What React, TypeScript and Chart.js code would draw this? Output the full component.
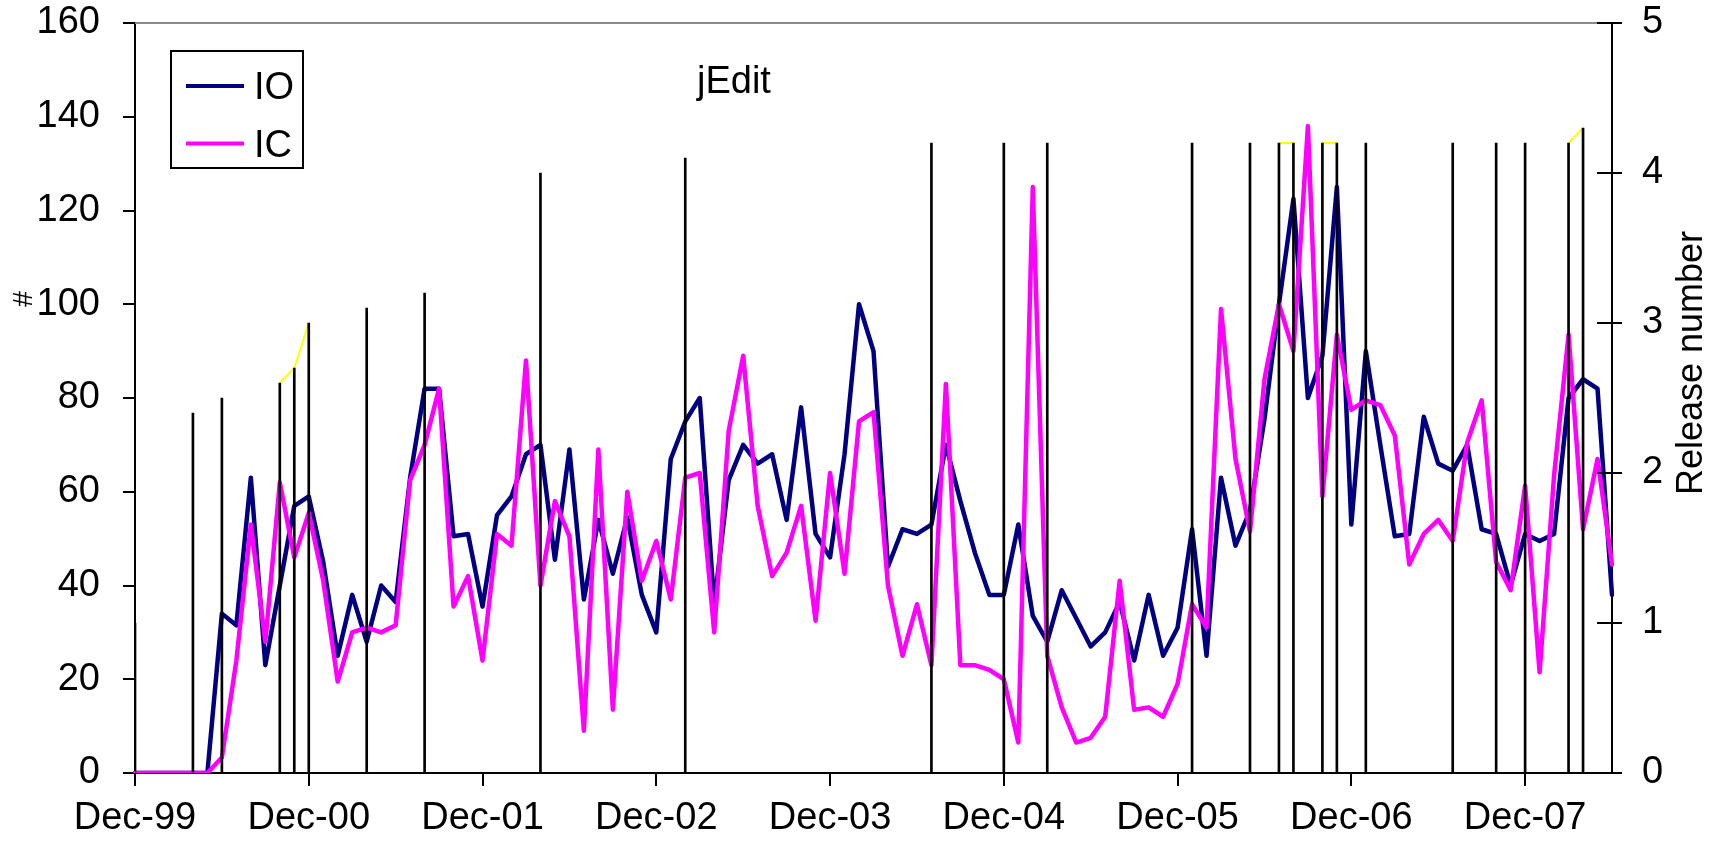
import React, { useEffect, useRef } from 'react';
import { Chart, registerables } from 'chart.js';

Chart.register(...registerables);

// ---------- data ----------
const MONTH_NAMES = ['Jan', 'Feb', 'Mar', 'Apr', 'May', 'Jun', 'Jul', 'Aug', 'Sep', 'Oct', 'Nov', 'Dec'];
const FIRST_MONTH = 11; // Dec
const FIRST_YEAR = 1999;
const MONTH_COUNT = 103; // Dec-99 .. Jun-08

const CATEGORIES: string[] = Array.from({ length: MONTH_COUNT }, (_, i) => {
  const m = (FIRST_MONTH + i) % 12;
  const y = FIRST_YEAR + Math.floor((FIRST_MONTH + i) / 12);
  return `${MONTH_NAMES[m]}-${String(y % 100).padStart(2, '0')}`;
});

const IO_VALUES = [
  0, 0, 0, 0, 0, 0, 34, 31.5, 63, 23, 40, 57, 59, 45, 25, 38, 28, 40, 36.5, 63,
  82, 82, 50.5, 51, 35.5, 55, 59, 68, 70, 45.5, 69, 37, 54, 42.5, 54.5, 38, 30, 67, 75, 80,
  36, 62.5, 70, 66, 68, 54, 78, 51, 46, 68, 100, 90, 44, 52, 51, 53, 70, 58, 47, 38,
  38, 53, 33.5, 28, 39, 33, 27, 30, 36.5, 24, 38, 25, 31, 52, 25, 63, 48.5, 56, 75.5, 100,
  122.5, 80, 89, 125, 53, 90, 70, 50.5, 51, 76, 66, 64.5, 70, 52, 51, 40, 51, 49.5, 51, 80,
  84, 82, 38,
];

const IC_VALUES = [
  0, 0, 0, 0, 0, 0, 3.3, 24, 53, 28, 62, 46, 55.5, 41, 19.5, 30, 31, 30, 31.5, 62.5,
  70, 82, 35.5, 42, 24, 51, 48.5, 88, 40, 58, 50.5, 9, 69, 13.5, 60, 41, 49.5, 37, 63, 64,
  30, 73, 89, 57, 42, 47, 57, 32.5, 64, 42.5, 75, 77, 40, 25, 36, 23, 83, 23, 23, 22,
  20, 6.5, 125, 25, 14, 6.5, 7.5, 12, 41, 13.5, 14, 12, 19, 36, 31, 99, 67, 51.5, 84, 100,
  90, 138, 59, 93.5, 77.5, 79.5, 78.5, 72, 44.5, 51, 54, 49.5, 70.5, 79.5, 45, 39, 61.3, 21.5, 63.5, 93.5,
  52, 67, 44.5,
];

const RELEASE_MONTHS = [
  'Dec-99', 'Apr-00', 'Jun-00', 'Oct-00', 'Nov-00', 'Dec-00', 'Apr-01', 'Aug-01', 'Apr-02', 'Feb-03',
  'Jul-04', 'Dec-04', 'Mar-05', 'Jan-06', 'May-06', 'Jul-06', 'Aug-06', 'Oct-06', 'Nov-06', 'Jan-07',
  'Jul-07', 'Oct-07', 'Dec-07', 'Mar-08', 'Apr-08',
];
const RELEASE_NUMBERS = [
  1.0, 2.4, 2.5, 2.6, 2.7, 3.0, 3.1, 3.2, 4.0, 4.1,
  4.2, 4.2, 4.2, 4.2, 4.2, 4.2, 4.2, 4.2, 4.2, 4.2,
  4.2, 4.2, 4.2, 4.2, 4.3,
];

const LEFT_TICKS = { min: 0, max: 160, step: 20 };
const RIGHT_TICKS = { min: 0, max: 5, step: 1 };
const TICK_EVERY = 12;

const TITLE = 'jEdit';
const LEFT_TITLE = '#';
const RIGHT_TITLE = 'Release number';
const SERIES_NAMES = ['IO', 'IC'];
const COLORS = { io: '#000080', ic: '#FF00FF', release: '#000000', releaseLine: '#FFFF00' };

const FONT = '"Liberation Sans", Arial, sans-serif';
const TICK_FONT_SIZE = 38;

const releaseSeries: (number | null)[] = CATEGORIES.map((c) => {
  const k = RELEASE_MONTHS.indexOf(c);
  return k >= 0 ? RELEASE_NUMBERS[k] : null;
});

const overlayPlugin = {
  id: 'overlay',
  afterDraw(chart: any) {
    const { ctx, chartArea: ca } = chart;
    ctx.save();
    // top border
    ctx.strokeStyle = '#8a8a8a';
    ctx.lineWidth = 2;
    ctx.beginPath();
    ctx.moveTo(ca.left, ca.top);
    ctx.lineTo(ca.right, ca.top);
    ctx.stroke();

    // inner half of right-axis ticks (cross ticks)
    const y2 = chart.scales.y2;
    ctx.strokeStyle = '#000';
    ctx.lineWidth = 2;
    ctx.beginPath();
    y2.ticks.forEach((t: any) => {
      const y = y2.getPixelForValue(t.value);
      ctx.moveTo(ca.right - 15, y);
      ctx.lineTo(ca.right, y);
    });
    ctx.stroke();

    // title inside plot
    ctx.fillStyle = '#000';
    ctx.font = `38px ${FONT}`;
    ctx.textAlign = 'left';
    ctx.textBaseline = 'alphabetic';
    ctx.fillText(TITLE, 697, 93);

    // legend
    ctx.fillStyle = '#fff';
    ctx.fillRect(171, 51, 132, 117);
    ctx.strokeStyle = '#000';
    ctx.lineWidth = 2;
    ctx.strokeRect(171, 51, 132, 117);
    const legendRows = [
      { name: SERIES_NAMES[0], color: COLORS.io, y: 86 },
      { name: SERIES_NAMES[1], color: COLORS.ic, y: 143.5 },
    ];
    legendRows.forEach((r) => {
      ctx.strokeStyle = r.color;
      ctx.lineWidth = 4;
      ctx.beginPath();
      ctx.moveTo(186, r.y);
      ctx.lineTo(244, r.y);
      ctx.stroke();
      ctx.fillStyle = '#000';
      ctx.font = `38px ${FONT}`;
      ctx.textBaseline = 'alphabetic';
      ctx.fillText(r.name, 254, r.y + 13);
    });

    // axis titles
    ctx.fillStyle = '#000';
    ctx.textAlign = 'center';
    ctx.textBaseline = 'middle';
    ctx.save();
    ctx.translate(24, 299);
    ctx.rotate(-Math.PI / 2);
    ctx.font = `28px ${FONT}`;
    ctx.fillText(LEFT_TITLE, 0, 0);
    ctx.restore();

    ctx.save();
    ctx.translate(1692, 363);
    ctx.rotate(-Math.PI / 2);
    ctx.font = `36px ${FONT}`;
    ctx.fillText(RIGHT_TITLE, 0, 0);
    ctx.restore();

    ctx.restore();
  },
};

const fixVertical = (width: number) => (s: any) => {
  s.width = width;
  s.paddingTop = 23;
  s.paddingBottom = 0;
};

export default function App() {
  const canvasRef = useRef<HTMLCanvasElement>(null);

  useEffect(() => {
    const canvas = canvasRef.current;
    if (!canvas) return;
    const chart = new Chart(canvas, {
      type: 'line',
      data: {
        labels: CATEGORIES,
        datasets: [
          {
            type: 'bar',
            label: 'Release',
            data: releaseSeries,
            yAxisID: 'y2',
            backgroundColor: COLORS.release,
            borderWidth: 0,
            barThickness: 2,
            grouped: false,
            order: 0,
          } as any,
          {
            type: 'line',
            label: 'Release line',
            data: releaseSeries,
            yAxisID: 'y2',
            borderColor: COLORS.releaseLine,
            borderWidth: 2,
            pointRadius: 0,
            spanGaps: false,
            tension: 0,
            order: 1,
          },
          {
            type: 'line',
            label: SERIES_NAMES[1],
            data: IC_VALUES,
            yAxisID: 'y',
            borderColor: COLORS.ic,
            borderWidth: 4.5,
            pointRadius: 0,
            tension: 0,
            borderJoinStyle: 'round',
            borderCapStyle: 'round',
            order: 2,
          },
          {
            type: 'line',
            label: SERIES_NAMES[0],
            data: IO_VALUES,
            yAxisID: 'y',
            borderColor: COLORS.io,
            borderWidth: 4.5,
            pointRadius: 0,
            tension: 0,
            borderJoinStyle: 'round',
            borderCapStyle: 'round',
            order: 3,
          },
        ],
      },
      options: {
        responsive: false,
        animation: false,
        devicePixelRatio: 1,
        layout: { padding: { top: 0, left: 0, right: 0, bottom: 0 } },
        plugins: { legend: { display: false }, tooltip: { enabled: false }, title: { display: false } },
        scales: {
          x: {
            type: 'category',
            offset: false,
            grid: {
              display: true,
              offset: false,
              drawOnChartArea: false,
              drawTicks: true,
              tickLength: 13,
              color: '#000',
              lineWidth: 2,
            },
            border: { display: true, color: '#000', width: 2 },
            ticks: {
              autoSkip: false,
              maxRotation: 0,
              minRotation: 0,
              padding: 10,
              color: '#000',
              font: { family: FONT, size: TICK_FONT_SIZE },
              callback: function (this: any, value: any, index: number) {
                return index % TICK_EVERY === 0 ? this.getLabelForValue(value) : null;
              },
            },
            afterFit: (s: any) => {
              s.height = 74;
            },
          },
          y: {
            type: 'linear',
            position: 'left',
            min: LEFT_TICKS.min,
            max: LEFT_TICKS.max,
            grid: { drawOnChartArea: false, drawTicks: true, tickLength: 12, color: '#000', lineWidth: 2 },
            border: { display: true, color: '#000', width: 2 },
            ticks: {
              stepSize: LEFT_TICKS.step,
              padding: 23,
              color: '#000',
              font: { family: FONT, size: TICK_FONT_SIZE },
            },
            afterFit: fixVertical(135),
          },
          y2: {
            type: 'linear',
            position: 'right',
            min: RIGHT_TICKS.min,
            max: RIGHT_TICKS.max,
            grid: { drawOnChartArea: false, drawTicks: true, tickLength: 10, color: '#000', lineWidth: 2 },
            border: { display: true, color: '#000', width: 2 },
            ticks: {
              stepSize: RIGHT_TICKS.step,
              padding: 20,
              color: '#000',
              font: { family: FONT, size: TICK_FONT_SIZE },
            },
            afterFit: fixVertical(112),
          },
        },
      },
      plugins: [overlayPlugin],
    });
    return () => chart.destroy();
  }, []);

  return (
    <div style={{ position: 'fixed', left: 0, top: 0, width: 1724, height: 847, background: '#fff' }}>
      <canvas ref={canvasRef} width={1724} height={847} style={{ display: 'block', width: 1724, height: 847 }} />
    </div>
  );
}
